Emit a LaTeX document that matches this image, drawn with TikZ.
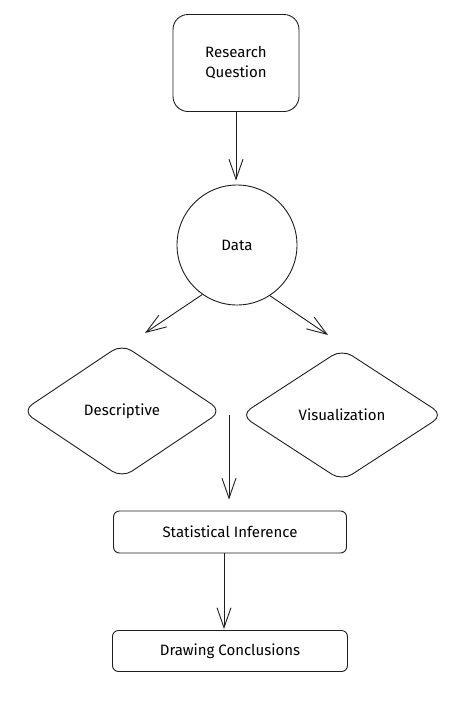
\documentclass[tikz,border=0pt]{standalone}
\usepackage{fontspec}
\setmainfont{Fira Sans}
\usepackage{xcolor}
\definecolor{sketchline}{HTML}{1E1E1E}
\usetikzlibrary{arrows.meta,positioning,shapes.geometric}
\tikzset{
  sketchbox/.style={draw=sketchline,line width=0.9pt,rounded corners=6pt,align=center,font=\fontsize{15}{20}\selectfont,inner sep=4pt},
  sketchdiam/.style={draw=sketchline,line width=0.9pt,diamond,rounded corners=12pt,align=center,font=\fontsize{15}{20}\selectfont,inner sep=0pt},
  sketchcirc/.style={draw=sketchline,line width=0.9pt,circle,minimum size=120pt,font=\fontsize{15}{20}\selectfont},
  sketchflow/.style={-{Straight Barb[length=20pt,width=14pt]},draw=sketchline,line width=0.9pt},
}

\begin{document}
\begin{tikzpicture}[x=1pt,y=-1pt]
\useasboundingbox (0,0) rectangle (458,702);
\node[sketchbox,rounded corners=15pt,minimum width=126pt,minimum height=97pt] (rq) at (236,63) {Research\\Question};
\node[sketchcirc] (data) at (237,245) {Data};
\draw[sketchflow,shorten >=4pt] (rq.south) -- (rq.south |- data.north);
\node[sketchdiam,minimum width=200pt,minimum height=134pt] (desc) at (122,411) {Descriptive};
\node[sketchdiam,minimum width=203pt,minimum height=132pt] (visu) at (342,415) {Visualization};
\coordinate (descend) at (145,333);
\coordinate (visuend) at (328,335);
\draw[sketchflow] (data.-125) -- (descend);
\draw[sketchflow] (data.-57) -- (visuend);
\node[sketchbox,minimum width=233pt,minimum height=42pt] (stat) at (230,532) {Statistical Inference};
\coordinate (split) at (229,415);
\draw[sketchflow,shorten >=11pt] (split) -- (split |- stat.north);
\node[sketchbox,minimum width=235pt,minimum height=41pt] (concl) at (230,651) {Drawing Conclusions};
\draw[sketchflow,shorten >=1pt] ([xshift=-6pt]stat.south) -- ([xshift=-6pt]concl.north);
\end{tikzpicture}
\end{document}
